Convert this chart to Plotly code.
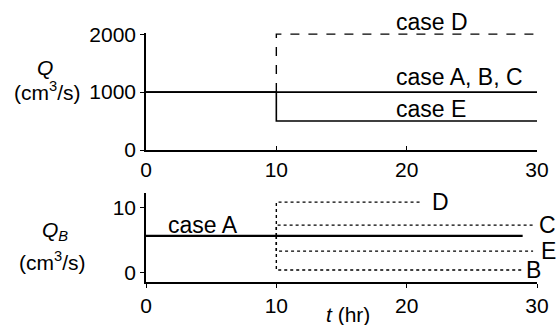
import plotly.graph_objects as go

# ---- data ----
t_top = [0, 30]
q_abc = [1000, 1000]
t_e = [0, 10, 10, 30]
q_e = [1000, 1000, 500, 500]
t_d = [10, 10, 30]
q_d = [1000, 2000, 2000]

qb_a_t = [0, 28.9]
qb_a = [5.6, 5.6]
qb_cases = {
    "D": ([10, 10, 21.0], [5.6, 10.8, 10.8]),
    "C": ([10, 10, 29.7], [5.6, 7.25, 7.25]),
    "E": ([10, 10, 29.7], [5.6, 3.25, 3.25]),
    "B": ([10, 10, 28.9], [5.6, 0.35, 0.35]),
}
x_ticks = [0, 10, 20, 30]
q_ticks = [0, 1000, 2000]
qb_ticks = [0, 10]

FONT = "Liberation Sans, Arial, sans-serif"
FS = 21
FS_L = 23
W, H = 557, 325

def px(x):
    return x / W

def py(y):
    return 1 - y / H

fig = go.Figure()
blk = "black"
fig.add_trace(go.Scatter(x=t_top, y=q_abc, mode="lines", line=dict(color=blk, width=1.6), xaxis="x", yaxis="y"))
fig.add_trace(go.Scatter(x=t_e, y=q_e, mode="lines", line=dict(color=blk, width=1.6), xaxis="x", yaxis="y"))
fig.add_trace(go.Scatter(x=t_d, y=q_d, mode="lines", line=dict(color=blk, width=1.4, dash="dash"), xaxis="x", yaxis="y"))

fig.add_trace(go.Scatter(x=qb_a_t, y=qb_a, mode="lines", line=dict(color=blk, width=2.4), xaxis="x2", yaxis="y2"))
for k, (tx, ty) in qb_cases.items():
    fig.add_trace(go.Scatter(x=tx, y=ty, mode="lines", line=dict(color=blk, width=1.4, dash="dot"), xaxis="x2", yaxis="y2"))

xd = [px(146), px(537)]
ax_common = dict(showgrid=False, zeroline=False, showline=True, linecolor=blk, linewidth=1.6,
                 tickcolor=blk, tickwidth=1.4, ticklen=4, automargin=False,
                 tickfont=dict(family=FONT, size=FS, color=blk))
fig.update_layout(
    width=W, height=H, margin=dict(l=0, r=0, t=0, b=0, autoexpand=False),
    paper_bgcolor="white", plot_bgcolor="white", showlegend=False,
    xaxis=dict(domain=xd, range=[0, 30], tickvals=x_ticks, ticks="inside", anchor="y", **ax_common),
    yaxis=dict(domain=[py(150), py(33)], range=[0, 2020], tickvals=q_ticks, ticks="outside", anchor="x", **ax_common),
    xaxis2=dict(domain=xd, range=[0, 30], tickvals=x_ticks, ticks="outside", anchor="y2", **ax_common),
    yaxis2=dict(domain=[py(282), py(193)], range=[-1.5, 12.2], tickvals=qb_ticks, ticks="outside", anchor="x2", **ax_common),
)

def ann(text, x, y, xref, yref, xanchor="left", xshift=0, yshift=0, size=FS_L):
    fig.add_annotation(text=text, x=x, y=y, xref=xref, yref=yref, showarrow=False,
                       xanchor=xanchor, yanchor="middle", xshift=xshift, yshift=yshift,
                       font=dict(family=FONT, size=size, color=blk))

ann("case D", 19.0, 2000, "x", "y", yshift=12)
ann("case A, B, C", 19.0, 1260, "x", "y")
ann("case E", 19.0, 705, "x", "y")
ann("case A", 1.5, 7.3, "x2", "y2")
ann("D", 21.8, 10.8, "x2", "y2")
ann("C", 30, 7.27, "x2", "y2", xshift=0)
ann("E", 30, 3.27, "x2", "y2", xshift=2)
ann("B", 29.0, 0.35, "x2", "y2")

# axis titles (paper coords)
ann("<i>Q</i>", px(45), py(67), "paper", "paper", "center", size=FS)
ann("(cm<sup>3</sup>/s)", px(47), py(91), "paper", "paper", "center", size=FS)
ann("<i>Q</i><sub><i>B</i></sub>", px(55), py(231), "paper", "paper", "center", size=FS)
ann("(cm<sup>3</sup>/s)", px(52), py(261), "paper", "paper", "center", size=FS)
ann("<i>t</i> (hr)", px(348), py(314), "paper", "paper", "center", size=FS)

fig.write_html("out.html", config={"displayModeBar": False},
               post_script="document.body.style.margin='0';document.body.style.overflow='hidden';")
